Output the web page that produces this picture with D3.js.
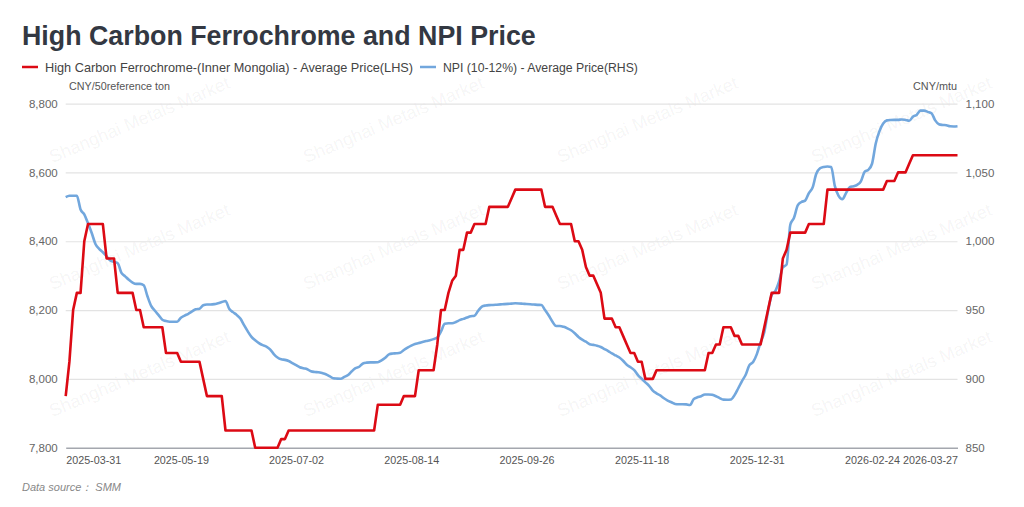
<!DOCTYPE html>
<html>
<head>
<meta charset="utf-8">
<script src="https://cdn.jsdelivr.net/npm/d3@7"></script>
<style>
html,body{margin:0;padding:0;background:#fff;}
svg{display:block;}
text{font-family:"Liberation Sans","Noto Sans",Arial,sans-serif;}
</style>
</head>
<body>
<svg id="chart" width="1024" height="507"></svg>
<script>
// ---------------- DATA ----------------
const categories = [
"2025-03-31","2025-04-01","2025-04-02","2025-04-03","2025-04-07","2025-04-08","2025-04-09","2025-04-10","2025-04-11",
"2025-04-14","2025-04-15","2025-04-16","2025-04-17","2025-04-18","2025-04-21","2025-04-22","2025-04-23","2025-04-24","2025-04-25",
"2025-04-28","2025-04-29","2025-04-30","2025-05-06","2025-05-07","2025-05-08","2025-05-09","2025-05-12","2025-05-13","2025-05-14",
"2025-05-15","2025-05-16","2025-05-19","2025-05-20","2025-05-21","2025-05-22","2025-05-23","2025-05-26","2025-05-27","2025-05-28",
"2025-05-29","2025-05-30","2025-06-03","2025-06-04","2025-06-05","2025-06-06","2025-06-09","2025-06-10","2025-06-11","2025-06-12",
"2025-06-13","2025-06-16","2025-06-17","2025-06-18","2025-06-19","2025-06-20","2025-06-23","2025-06-24","2025-06-25","2025-06-26",
"2025-06-27","2025-06-30","2025-07-01","2025-07-02","2025-07-03","2025-07-04","2025-07-07","2025-07-08","2025-07-09","2025-07-10",
"2025-07-11","2025-07-14","2025-07-15","2025-07-16","2025-07-17","2025-07-18","2025-07-21","2025-07-22","2025-07-23","2025-07-24",
"2025-07-25","2025-07-28","2025-07-29","2025-07-30","2025-07-31","2025-08-01","2025-08-04","2025-08-05","2025-08-06","2025-08-07",
"2025-08-08","2025-08-11","2025-08-12","2025-08-13","2025-08-14","2025-08-15","2025-08-18","2025-08-19","2025-08-20","2025-08-21",
"2025-08-22","2025-08-25","2025-08-26","2025-08-27","2025-08-28","2025-08-29","2025-09-01","2025-09-02","2025-09-03","2025-09-04",
"2025-09-05","2025-09-08","2025-09-09","2025-09-10","2025-09-11","2025-09-12","2025-09-15","2025-09-16","2025-09-17","2025-09-18",
"2025-09-19","2025-09-22","2025-09-23","2025-09-24","2025-09-25","2025-09-26","2025-09-29","2025-09-30","2025-10-09","2025-10-10",
"2025-10-13","2025-10-14","2025-10-15","2025-10-16","2025-10-17","2025-10-20","2025-10-21","2025-10-22","2025-10-23","2025-10-24",
"2025-10-27","2025-10-28","2025-10-29","2025-10-30","2025-10-31","2025-11-03","2025-11-04","2025-11-05","2025-11-06","2025-11-07",
"2025-11-10","2025-11-11","2025-11-12","2025-11-13","2025-11-14","2025-11-17","2025-11-18","2025-11-19","2025-11-20","2025-11-21",
"2025-11-24","2025-11-25","2025-11-26","2025-11-27","2025-11-28","2025-12-01","2025-12-02","2025-12-03","2025-12-04","2025-12-05",
"2025-12-08","2025-12-09","2025-12-10","2025-12-11","2025-12-12","2025-12-15","2025-12-16","2025-12-17","2025-12-18","2025-12-19",
"2025-12-22","2025-12-23","2025-12-24","2025-12-25","2025-12-26","2025-12-29","2025-12-30","2025-12-31","2026-01-05","2026-01-06",
"2026-01-07","2026-01-08","2026-01-09","2026-01-12","2026-01-13","2026-01-14","2026-01-15","2026-01-16","2026-01-19","2026-01-20",
"2026-01-21","2026-01-22","2026-01-23","2026-01-26","2026-01-27","2026-01-28","2026-01-29","2026-01-30","2026-02-02","2026-02-03",
"2026-02-04","2026-02-05","2026-02-06","2026-02-09","2026-02-10","2026-02-11","2026-02-12","2026-02-13","2026-02-24","2026-02-25",
"2026-02-26","2026-02-27","2026-03-02","2026-03-03","2026-03-04","2026-03-05","2026-03-06","2026-03-09","2026-03-10","2026-03-11",
"2026-03-12","2026-03-13","2026-03-16","2026-03-17","2026-03-18","2026-03-19","2026-03-20","2026-03-23","2026-03-24","2026-03-25",
"2026-03-26","2026-03-27"
];

// High Carbon Ferrochrome (Inner Mongolia) average price, CNY/50% ton (LHS)
const ferrochrome = [
7950,8050,8200,8250,8250,8400,8450,8450,8450,8450,
8450,8350,8350,8350,8250,8250,8250,8250,8250,8200,
8200,8150,8150,8150,8150,8150,8150,8075,8075,8075,
8075,8050,8050,8050,8050,8050,8050,8000,7950,7950,
7950,7950,7950,7850,7850,7850,7850,7850,7850,7850,
7850,7800,7800,7800,7800,7800,7800,7800,7825,7825,
7850,7850,7850,7850,7850,7850,7850,7850,7850,7850,
7850,7850,7850,7850,7850,7850,7850,7850,7850,7850,
7850,7850,7850,7850,7925,7925,7925,7925,7925,7925,
7925,7950,7950,7950,7950,8025,8025,8025,8025,8025,
8100,8200,8200,8250,8285,8300,8375,8375,8425,8425,
8450,8450,8450,8450,8500,8500,8500,8500,8500,8500,
8525,8550,8550,8550,8550,8550,8550,8550,8550,8500,
8500,8500,8475,8450,8450,8450,8450,8400,8400,8375,
8325,8300,8300,8275,8250,8175,8175,8175,8150,8150,
8125,8100,8075,8075,8050,8050,8000,8000,8000,8025,
8025,8025,8025,8025,8025,8025,8025,8025,8025,8025,
8025,8025,8025,8075,8075,8100,8100,8150,8150,8150,
8125,8125,8100,8100,8100,8100,8100,8100,8150,8200,
8250,8250,8250,8350,8375,8425,8425,8425,8425,8425,
8450,8450,8450,8450,8450,8550,8550,8550,8550,8550,
8550,8550,8550,8550,8550,8550,8550,8550,8550,8550,
8550,8575,8575,8575,8600,8600,8600,8625,8650,8650,
8650,8650,8650,8650,8650,8650,8650,8650,8650,8650,
8650
];

// NPI (10-12%) average price, CNY/mtu (RHS)
const npi = [
1032,1033,1033,1033,1023,1019.5,1013,1006,998,994.5,
992,989,986,985,984,977,974.5,972,970,969,
969,968,960,953,949.5,946.3,943,942,941.5,941.5,
941.5,944.5,946,947.3,949,950.6,951,953.5,954,954,
954.3,955,955.8,956.6,951,948.5,946.5,943.8,939,934.5,
930.5,928,926,924.5,923.5,921.5,918,915.5,914.2,913.8,
913,911.5,910,908.5,907.7,907,905.5,905,904.8,904.2,
903.4,902,900.4,900.2,900.1,901.4,902.8,905.5,907.8,908.8,
911.2,911.8,912,912,912.1,913.5,915.4,917.8,918.4,918.6,
919,921,922.7,924.2,925.4,926,926.8,927.5,928.1,928.9,
930,934.5,940,940.4,940.4,941.3,942.7,943.6,944.6,945.5,
945.9,949.5,952.5,953.3,953.6,953.7,953.9,954.1,954.3,954.5,
954.7,954.9,954.8,954.6,954.4,954.2,954,953.8,953.7,950,
946,941.5,938.4,938.4,937.8,936.7,935.3,933.1,930.5,928.5,
927,925.2,924.7,924.1,923.2,921.7,920.2,918.5,917,915.5,
913.2,910.3,908.4,906.3,902.8,900.1,897.5,895,891.5,889.5,
888,885.9,884.2,883,881.8,881.6,881.6,881.5,881,885.3,
886.6,887.4,888.7,888.7,888.4,887.4,886,884.9,884.8,885,
888.2,893.2,898.4,903,910,912.2,918,926.5,934,949,
961,964,971,981,983,1012,1017,1026,1028.5,1029.5,
1035,1039,1049,1053,1054,1054.3,1054,1040,1033,1030.5,
1035,1039.3,1040,1041,1043.5,1050.4,1051.9,1056.3,1071,1080,
1085.5,1087.8,1088.1,1088.2,1088.2,1088.5,1088.1,1087.5,1090.5,1091.8,
1094.9,1094.9,1094,1093,1087.8,1085,1084.5,1084.3,1083.5,1083.4,
1083.6
];

const leftTicks = [7800, 8000, 8200, 8400, 8600, 8800];
const rightTicks = [850, 900, 950, 1000, 1050, 1100];
const xTickLabels = ["2025-03-31","2025-05-19","2025-07-02","2025-08-14","2025-09-26","2025-11-18","2025-12-31","2026-02-24","2026-03-27"];

const titleText = "High Carbon Ferrochrome and NPI Price";
const seriesNames = ["High Carbon Ferrochrome-(Inner Mongolia) - Average Price(LHS)", "NPI (10-12%) - Average Price(RHS)"];
const seriesColors = ["#dc0a14", "#72a7dd"];
const leftUnit = "CNY/50reference ton";
const rightUnit = "CNY/mtu";
const sourceText = "Data source\uff1a SMM";
const watermarkText = "Shanghai Metals Market";

// ---------------- LAYOUT ----------------
const svg = d3.select("#chart");
const plot = {left: 65.7, right: 957.5, top: 103.6, bottom: 447.7};

function fitWidth(sel, w) {
  const len = sel.node().getComputedTextLength();
  const fs = parseFloat(sel.attr("font-size"));
  sel.attr("font-size", (fs * w / len).toFixed(2));
}

const x = d3.scalePoint().domain(categories).range([plot.left, plot.right]);
const yL = d3.scaleLinear().domain([7800, 8800]).range([plot.bottom, plot.top]);
const yR = d3.scaleLinear().domain([850, 1100]).range([plot.bottom, plot.top]);

// watermarks (behind the data)
const wmCols = [140, 394, 648, 902];
const wmRows = [121, 248, 375];
const wm = svg.append("g").attr("pointer-events", "none");
wmRows.forEach(cy => wmCols.forEach(cx => {
  wm.append("text").attr("transform", `translate(${cx},${cy}) rotate(-23)`)
    .attr("text-anchor", "middle").attr("dominant-baseline", "middle")
    .attr("font-size", 18).attr("fill", "#000").attr("fill-opacity", 0.055)
    .attr("font-family", "Open Sans, Noto Sans, sans-serif")
    .text(watermarkText);
}));

// gridlines
const grid = svg.append("g").attr("class", "grid")
  .attr("transform", `translate(${plot.left},0)`)
  .call(d3.axisLeft(yL).tickValues(leftTicks.slice(1)).tickSize(-(plot.right - plot.left)).tickFormat(""));
grid.select(".domain").remove();
grid.selectAll("line").attr("stroke", "#e3e3e3").attr("stroke-width", 1.2);

// title
const title = svg.append("text").attr("x", 22).attr("y", 45)
  .attr("font-size", 27).attr("font-weight", "bold").attr("fill", "#333842")
  .text(titleText);
fitWidth(title, 514);

// legend
const legendItems = [
  {name: seriesNames[0], color: seriesColors[0], x0: 22, tx: 45, w: 368},
  {name: seriesNames[1], color: seriesColors[1], x0: 420, tx: 443, w: 195}
];
legendItems.forEach(d => {
  svg.append("line").attr("x1", d.x0).attr("x2", d.x0 + 16).attr("y1", 67).attr("y2", 67)
    .attr("stroke", d.color).attr("stroke-width", 2.5);
  const t = svg.append("text").attr("x", d.tx).attr("y", 71.5).attr("font-size", 13).attr("fill", "#444")
    .text(d.name);
  fitWidth(t, d.w);
});

// unit labels
const lu = svg.append("text").attr("x", 69).attr("y", 90).attr("font-size", 11).attr("fill", "#555").text(leftUnit);
fitWidth(lu, 101);
const ru = svg.append("text").attr("x", 957).attr("y", 90).attr("font-size", 11).attr("fill", "#555")
  .attr("text-anchor", "end").text(rightUnit);
fitWidth(ru, 44);

// left axis
const axL = svg.append("g").attr("transform", `translate(${plot.left},0)`)
  .call(d3.axisLeft(yL).tickValues(leftTicks).tickSize(0).tickPadding(8).tickFormat(d3.format(",")));
axL.select(".domain").remove();
axL.selectAll("text").attr("font-size", 11.5).attr("fill", "#666").attr("font-family", "Liberation Sans, Arial, sans-serif");

// right axis
const axR = svg.append("g").attr("transform", `translate(${plot.right},0)`)
  .call(d3.axisRight(yR).tickValues(rightTicks).tickSize(0).tickPadding(8).tickFormat(d3.format(",")));
axR.select(".domain").remove();
axR.selectAll("text").attr("font-size", 11.5).attr("fill", "#666").attr("font-family", "Liberation Sans, Arial, sans-serif");

// x axis
const axX = svg.append("g").attr("transform", `translate(0,${plot.bottom})`)
  .call(d3.axisBottom(x).tickValues(xTickLabels).tickSize(0).tickPadding(9));
axX.select(".domain").attr("stroke", "#a4a7ae").attr("stroke-width", 1.6);
axX.selectAll("text").attr("font-size", 11).attr("fill", "#555").attr("font-family", "Liberation Sans, Arial, sans-serif");
const firstLen = axX.select(".tick text").node().getComputedTextLength();
axX.selectAll("text").attr("font-size", (11 * 55 / firstLen).toFixed(2));
axX.selectAll(".tick text").filter(d => d === xTickLabels[0]).attr("text-anchor", "start");
axX.selectAll(".tick text").filter(d => d === xTickLabels[xTickLabels.length - 1]).attr("text-anchor", "end");

// lines
const lineL = d3.line().x((d, i) => x(categories[i])).y(d => yL(d));
const lineR = d3.line().x((d, i) => x(categories[i])).y(d => yR(d)).curve(d3.curveMonotoneX);

svg.append("path").datum(npi).attr("d", lineR).attr("fill", "none")
  .attr("stroke", seriesColors[1]).attr("stroke-width", 2.6).attr("stroke-linejoin", "round");
svg.append("path").datum(ferrochrome).attr("d", lineL).attr("fill", "none")
  .attr("stroke", seriesColors[0]).attr("stroke-width", 2.6).attr("stroke-linejoin", "round");

// source
svg.append("text").attr("x", 22).attr("y", 491).attr("font-size", 11).attr("font-style", "italic")
  .attr("fill", "#888").text(sourceText);
</script>
</body>
</html>
